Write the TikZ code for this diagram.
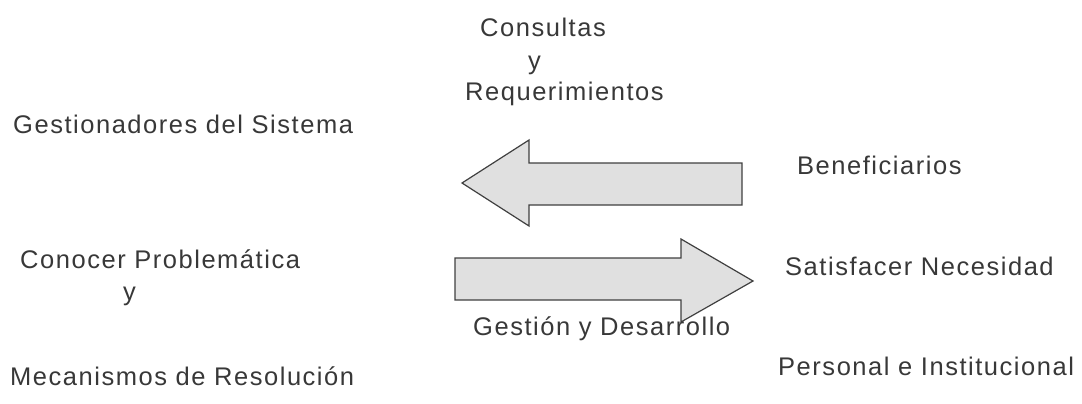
\documentclass[tikz,border=0pt]{standalone}
\usepackage{fontspec}
\setmainfont{Liberation Sans}[LetterSpace=6]
\tikzset{
  lbl/.style={anchor=base west,inner sep=0pt,text=black!78,font=\fontsize{25.5}{30}\selectfont},
  bigarrow/.style={draw=black!75,line width=1.2pt,fill=black!12,line join=miter}
}
\begin{document}
\begin{tikzpicture}[x=1pt,y=-1pt]
\useasboundingbox (0,0) rectangle (1082,404);

% arrow to the left
\draw[bigarrow] (742,163) -- (529,163) -- (529,140) -- (462,183) -- (529,226)
  -- (529,205) -- (742,205) -- cycle;
% arrow to the right
\draw[bigarrow] (455,258) -- (681,258) -- (681,239) -- (753,281) -- (681,322)
  -- (681,300) -- (455,300) -- cycle;

\node[lbl] (cons) at (480,37) {Consultas};
\node[lbl] (cy) at (528,70) {y};
\node[lbl] (req) at (465,100) {Requerimientos};
\node[lbl] (gest) at (13,133) {Gestionadores del Sistema};
\node[lbl] (ben) at (797,174) {Beneficiarios};
\node[lbl] (con) at (20,268) {Conocer Problemática};
\node[lbl] (py) at (123,300) {y};
\node[lbl] (mec) at (10,385) {Mecanismos de Resolución};
\node[lbl] (sat) at (785,275) {Satisfacer Necesidad};
\node[lbl] (gyd) at (473,335) {Gestión y Desarrollo};
\node[lbl] (pers) at (778,375) {Personal e Institucional};
\end{tikzpicture}
\end{document}
